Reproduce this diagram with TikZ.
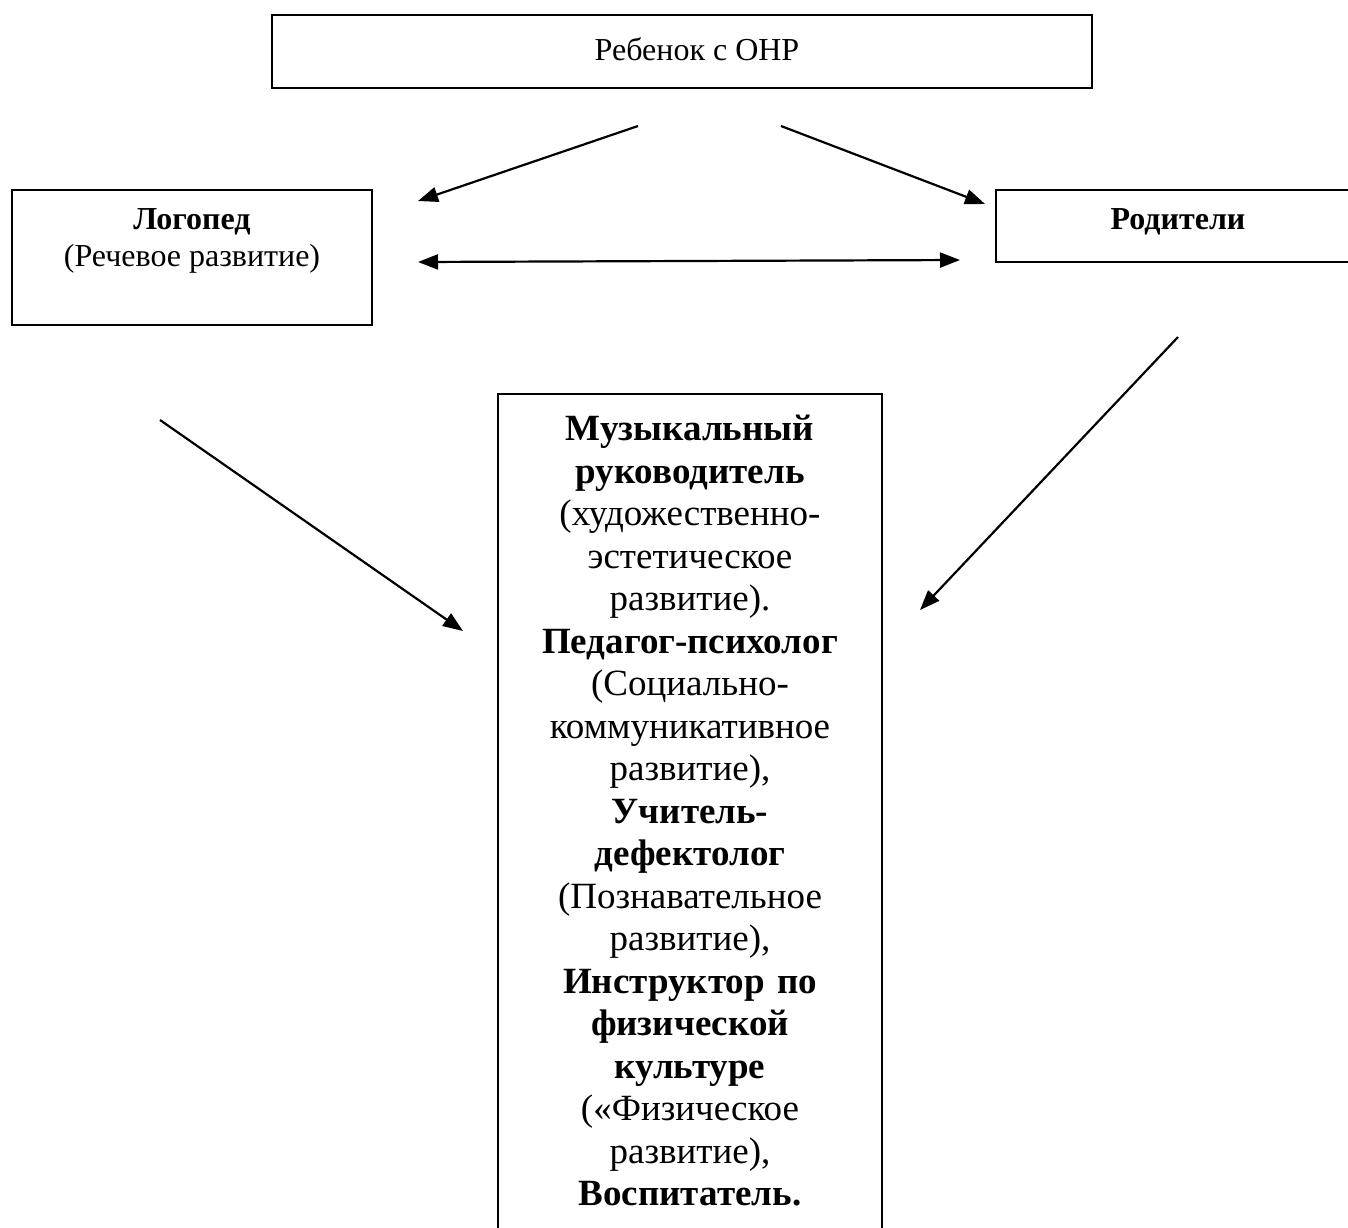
\documentclass[tikz,border=0pt]{standalone}
\usepackage{fontspec}
\setmainfont{Liberation Serif}
\usetikzlibrary{arrows.meta}
\begin{document}
\begin{tikzpicture}[x=1pt,y=-1pt,
  boxframe/.style={draw, line width=1.6pt, inner sep=0pt},
  lbl/.style={inner sep=0pt, align=center},
  arr/.style={line width=2.2pt, -{Triangle[length=20pt,width=15pt]}},
  darr/.style={line width=2.2pt, {Triangle[length=20pt,width=15pt]}-{Triangle[length=20pt,width=15pt]}}]
\clip (0,0) rectangle (1348,1227);
\fill[white] (0,0) rectangle (1348,1227);
% top box
\node[boxframe, minimum width=820pt, minimum height=73pt] (child) at (682,51.5) {};
\node[lbl, font=\fontsize{32}{37}\selectfont] (childtxt) at (697,49) {Ребенок с ОНР};
% left box
\node[boxframe, minimum width=360pt, minimum height=135pt] (logo) at (192,257.5) {};
\node[lbl, font=\fontsize{32}{37}\selectfont, anchor=north] (logotxt) at (192,208) {\textbf{Логопед}\\(Речевое развитие)};
% right box
\node[boxframe, minimum width=364pt, minimum height=72pt] (par) at (1178,226) {};
\node[lbl, font=\fontsize{32}{37}\selectfont\bfseries] (partxt) at (1178,222) {Родители};
% bottom box
\node[boxframe, minimum width=384pt, minimum height=900pt, anchor=north] (mus) at (690,393) {};
\node[lbl, anchor=north, text width=384pt, font=\fontsize{37}{42.5}\selectfont] (mustxt) at (690,415) {%
\textbf{Музыкальный}\\
\textbf{руководитель}\\
(художественно-\\
эстетическое\\
развитие).\\
\textbf{Педагог-психолог}\\
(Социально-\\
коммуникативное\\
развитие),\\
\textbf{Учитель-}\\
\textbf{дефектолог}\\
(Познавательное\\
развитие),\\
\textbf{Инструктор по}\\
\textbf{физической}\\
\textbf{культуре}\\
(«Физическое\\
развитие),\\
\textbf{Воспитатель.}};
% connector ends
\coordinate (a1s) at (638,126);
\coordinate (a1e) at (418,201);
\coordinate (a2s) at (781,126);
\coordinate (a2e) at (985,204);
\coordinate (a3s) at (418,262);
\coordinate (a3e) at (960,260);
\coordinate (a4s) at (160,420);
\coordinate (a4e) at (463,631);
\coordinate (a5s) at (1178,337);
\coordinate (a5e) at (920,610);
\draw[arr] (a1s) -- (a1e);
\draw[arr] (a2s) -- (a2e);
\draw[darr] (a3s) -- (a3e);
\draw[arr] (a4s) -- (a4e);
\draw[arr] (a5s) -- (a5e);
\end{tikzpicture}
\end{document}
